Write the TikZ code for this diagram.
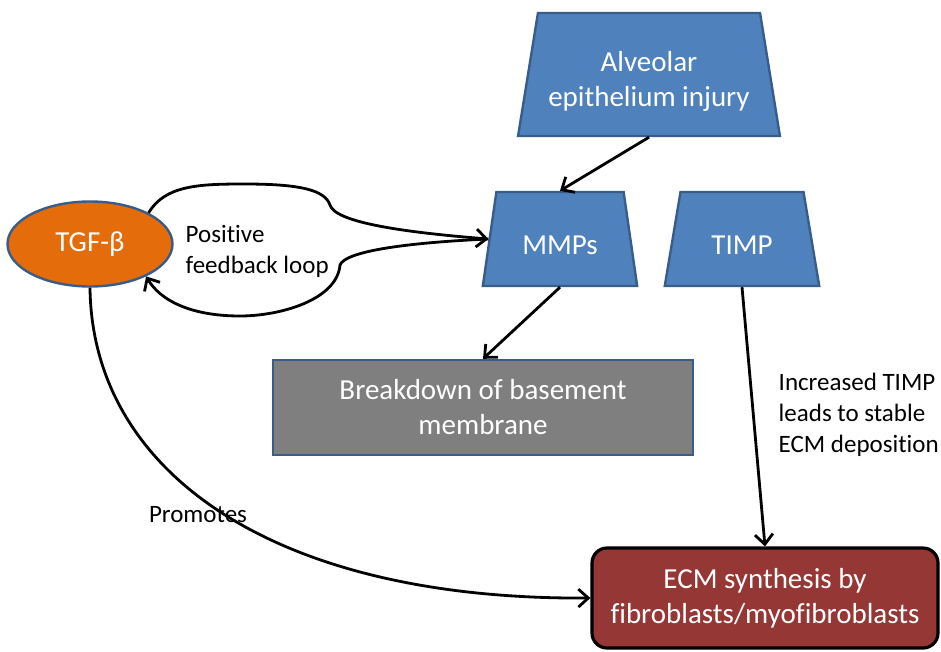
\documentclass[tikz,border=0pt]{standalone}
\usepackage{fontspec}
\setmainfont{Carlito}[Ligatures=NoCommon]
\usetikzlibrary{arrows.meta,shapes.geometric}
\definecolor{cellblue}{HTML}{4F81BD}
\definecolor{edgeblue}{HTML}{385D8A}
\definecolor{tgforange}{HTML}{E46C0A}
\definecolor{bmgray}{HTML}{7F7F7F}
\definecolor{ecmred}{HTML}{953735}

\begin{document}
\begin{tikzpicture}[x=1pt,y=-1pt,>={Straight Barb[length=10pt,width=18pt]},line width=2.8pt]
\tikzset{trap/.style={trapezium,trapezium left angle=77,trapezium right angle=77,trapezium stretches=true,draw=edgeblue,line width=2.4pt,fill=cellblue,text=white,align=center,font=\fontsize{29}{35}\selectfont},
  note/.style={align=left,anchor=west,font=\fontsize{25}{31}\selectfont}}
\useasboundingbox (0,0) rectangle (941,651);
\node[trap,minimum width=262pt,minimum height=123pt,text height=69pt] (alv) at (649,74.5) {Alveolar\\epithelium injury};
\node[trap,minimum width=155pt,minimum height=94pt,text height=31pt] (mmps) at (560,239) {MMPs};
\node[trap,minimum width=155pt,minimum height=94pt,text height=31pt] (timp) at (742,239) {TIMP};
\node[ellipse,draw=edgeblue,line width=2.4pt,fill=tgforange,text=white,minimum width=165pt,minimum height=85pt,font=\fontsize{29}{35}\selectfont] (tgf) at (90,244) {TGF-β};
\node[draw=edgeblue,line width=2.4pt,fill=bmgray,text=white,align=center,minimum width=420pt,minimum height=95pt,font=\fontsize{29}{35}\selectfont] (brk) at (483,407.5) {Breakdown of basement\\membrane};
\node[draw=black,line width=3.2pt,rounded corners=15pt,fill=ecmred,text=white,align=center,minimum width=346pt,minimum height=100pt,font=\fontsize{29}{35}\selectfont] (ecm) at (765,598) {ECM synthesis by\\fibroblasts/myofibroblasts};
% labels
\node[note] (loop) at (181,251) {Positive\\feedback loop};
\node[note] (tlab) at (774,415) {Increased TIMP\\leads to stable\\ECM deposition};
\node[font=\fontsize{25}{31}\selectfont] (prom) at (198,515) {Promotes};
% arrows
\draw[->] (alv.south) -- (mmps.north);
\draw[->] (mmps.south) -- (brk.north);
\draw[->] (timp.south) -- (ecm.north);
\draw[->] (tgf.south) .. controls (92,470) and (270,600) .. (ecm.west);
\draw[->] (tgf.28) .. controls (165,185) and (200,184) .. (245,184) .. controls (300,184) and (325,190) .. (330,205) .. controls (335,222) and (400,232) .. (mmps.west);
\draw[->] (mmps.west) .. controls (400,243) and (345,252) .. (340,265) .. controls (337,300) and (280,316) .. (240,316) .. controls (190,316) and (160,300) .. (tgf.-30);
\end{tikzpicture}
\end{document}
